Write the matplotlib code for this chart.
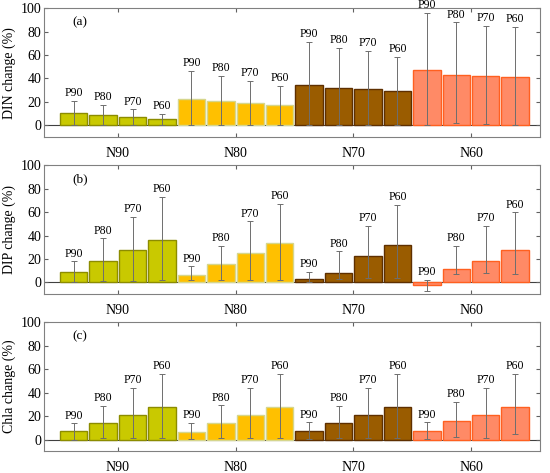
import matplotlib
matplotlib.use("Agg")
import matplotlib.pyplot as plt
import numpy as np

plt.rcParams['font.family'] = ['Liberation Serif', 'DejaVu Serif']

groups = ["N90", "N80", "N70", "N60"]
scen = ["P90", "P80", "P70", "P60"]

din_val = [[10.8, 8.8, 7.1, 5.1], [22.9, 21.2, 19.3, 17.0], [34.8, 32.3, 31.4, 29.5], [47.6, 43.3, 41.9, 41.4]]
din_hi = [[21.2, 17.3, 13.6, 9.6], [46.5, 42.2, 38.0, 33.4], [71.4, 66.0, 63.2, 58.6], [96.0, 87.8, 85.0, 83.9]]
din_lo = [[0.0, 0.0, 0.0, 0.0], [0.0, 0.0, 0.0, 0.5], [0.0, 0.5, 0.0, 0.0], [0.5, 2.0, 1.0, 0.5]]

dip_val = [[9.0, 18.3, 27.6, 36.3], [6.2, 16.1, 25.4, 33.8], [3.1, 8.2, 22.5, 31.5], [-2.0, 11.8, 18.6, 27.3]]
dip_hi = [[18.0, 37.5, 56.0, 72.7], [13.8, 31.0, 52.0, 66.8], [9.3, 26.5, 47.9, 65.9], [2.0, 31.3, 47.9, 59.7]]
dip_lo = [[0.8, 1.0, 1.4, 1.7], [1.7, 2.0, 2.3, 2.0], [0.5, 2.8, 3.4, 3.4], [-7.0, 6.8, 7.9, 7.6]]

chla_val = [[7.1, 14.0, 20.8, 27.4], [6.8, 14.0, 20.5, 27.4], [7.1, 14.0, 21.1, 27.6], [7.4, 15.4, 21.1, 27.6]]
chla_hi = [[13.7, 28.8, 44.2, 55.6], [14.2, 29.0, 43.9, 55.8], [14.5, 28.8, 43.9, 55.8], [14.5, 31.9, 43.9, 55.8]]
chla_lo = [[0.0, 0.9, 1.7, 1.7], [0.8, 0.9, 1.5, 1.7], [0.3, 1.0, 1.2, 1.2], [0.5, 2.0, 1.2, 5.1]]

panels = [("(a)", "DIN change (%)", din_val, din_hi, din_lo),
          ("(b)", "DIP change (%)", dip_val, dip_hi, dip_lo),
          ("(c)", "Chla change (%)", chla_val, chla_hi, chla_lo)]

fills = ["#C9C900", "#FFC000", "#9A5C00", "#FF8A66"]
edges = ["#8C8C00", "#D6D68C", "#5E2F00", "#FF6020"]

fig = plt.figure(figsize=(5.5, 4.73), dpi=100)
tops = [0.983, 0.651, 0.319]
h = 0.273
left, width = 0.080, 0.902

for k, (tag, ylab, val, hi, lo) in enumerate(panels):
    ax = fig.add_axes([left, tops[k] - h, width, h])
    bw = 0.25
    for g in range(4):
        for s in range(4):
            x = (g + 1) - 0.375 + s * bw
            v = val[g][s]
            ax.bar(x, v, width=bw * 0.93, color=fills[g], edgecolor=edges[g], linewidth=1.0, zorder=2)
            ax.errorbar(x, v, yerr=[[v - lo[g][s]], [hi[g][s] - v]], fmt='none',
                        ecolor='#6e6e6e', elinewidth=0.7, capsize=2.2, capthick=0.7, zorder=3)
            ax.text(x, hi[g][s] + 1.5, scen[s], ha='center', va='bottom', fontsize=8.5, zorder=4)
    ax.axhline(0, color='#404040', linewidth=0.8, zorder=1)
    ax.set_xlim(0.373, 4.587)
    ax.set_ylim(-10, 100)
    ax.set_yticks([0, 20, 40, 60, 80, 100])
    ax.set_xticks([1, 2, 3, 4])
    ax.set_xticklabels(groups)
    ax.tick_params(direction='in', top=True, right=True, labelsize=10, length=3, color='#606060')
    ax.tick_params(axis='x', pad=7)
    ax.tick_params(axis='y', pad=2)
    for sp in ax.spines.values():
        sp.set_color('#808080')
        sp.set_linewidth(0.8)
    ax.set_ylabel(ylab, fontsize=10, labelpad=3)
    ax.text(0.68, 88, tag, ha='center', va='center', fontsize=9.5)

fig.savefig("out.png", dpi=100)
